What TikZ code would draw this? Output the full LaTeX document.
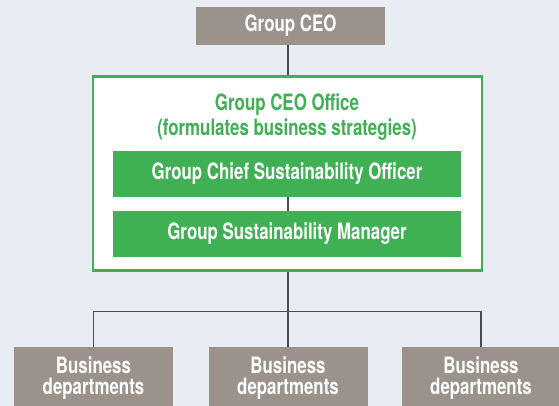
\documentclass[tikz,border=0pt]{standalone}
\usepackage{fontspec}
\setmainfont{TeX Gyre Heros}[FakeStretch=0.75]

\definecolor{taupe}{HTML}{9C928C}
\definecolor{leaf}{HTML}{40B055}
\definecolor{paper}{HTML}{E9EDF3}
\definecolor{wire}{HTML}{4D4D4D}

\tikzset{
    greybox/.style={fill=taupe, text=white, inner sep=0pt, align=center,
        font=\fontsize{22.5}{21.7}\selectfont\bfseries},
    greenbox/.style={fill=leaf, text=white, inner sep=0pt,
        minimum width=348, minimum height=46,
        font=\fontsize{22.5}{22}\selectfont\bfseries},
    link/.style={draw=wire, line width=1.2pt}
}

\begin{document}
\begin{tikzpicture}[x=1pt, y=-1pt]
    % background
    \fill[paper] (0,0) rectangle (559,406);
    \useasboundingbox (0,0) rectangle (559,406);

    % top
    \node[greybox, minimum width=189, minimum height=38] (ceo) at (290.5,26) {Group CEO};

    % office frame
    \node[draw=leaf, line width=2.5pt, fill=white, minimum width=389, minimum height=194] (office) at (287.5,173.5) {};
    \node[text=leaf, align=center, font=\fontsize{22.5}{25.7}\selectfont\bfseries] (title) at (287,117)
        {Group CEO Office\\(formulates business strategies)};
    \node[greenbox] (cso) at (287,174) {Group Chief Sustainability Officer};
    \node[greenbox] (gsm) at (287,234) {Group Sustainability Manager};

    % departments
    \def\dy{378}
    \node[greybox, minimum width=159, minimum height=62] (dept1) at (93.5,\dy) {Business\\departments};
    \node[greybox, minimum width=159, minimum height=62] (dept2) at (288,\dy) {Business\\departments};
    \node[greybox, minimum width=159, minimum height=62] (dept3) at (481,\dy) {Business\\departments};

    % lines
    \coordinate (hub) at (288,311.7);
    \draw[link] (ceo.south -| hub) -- (office.north -| hub);
    \draw[link] (cso.south -| hub) -- (gsm.north -| hub);
    \draw[link] (office.south -| hub) -- (hub);
    \draw[link] (dept1.north) |- (hub) -| (dept3.north);
    \draw[link] (hub) -- (dept2.north);
\end{tikzpicture}
\end{document}
